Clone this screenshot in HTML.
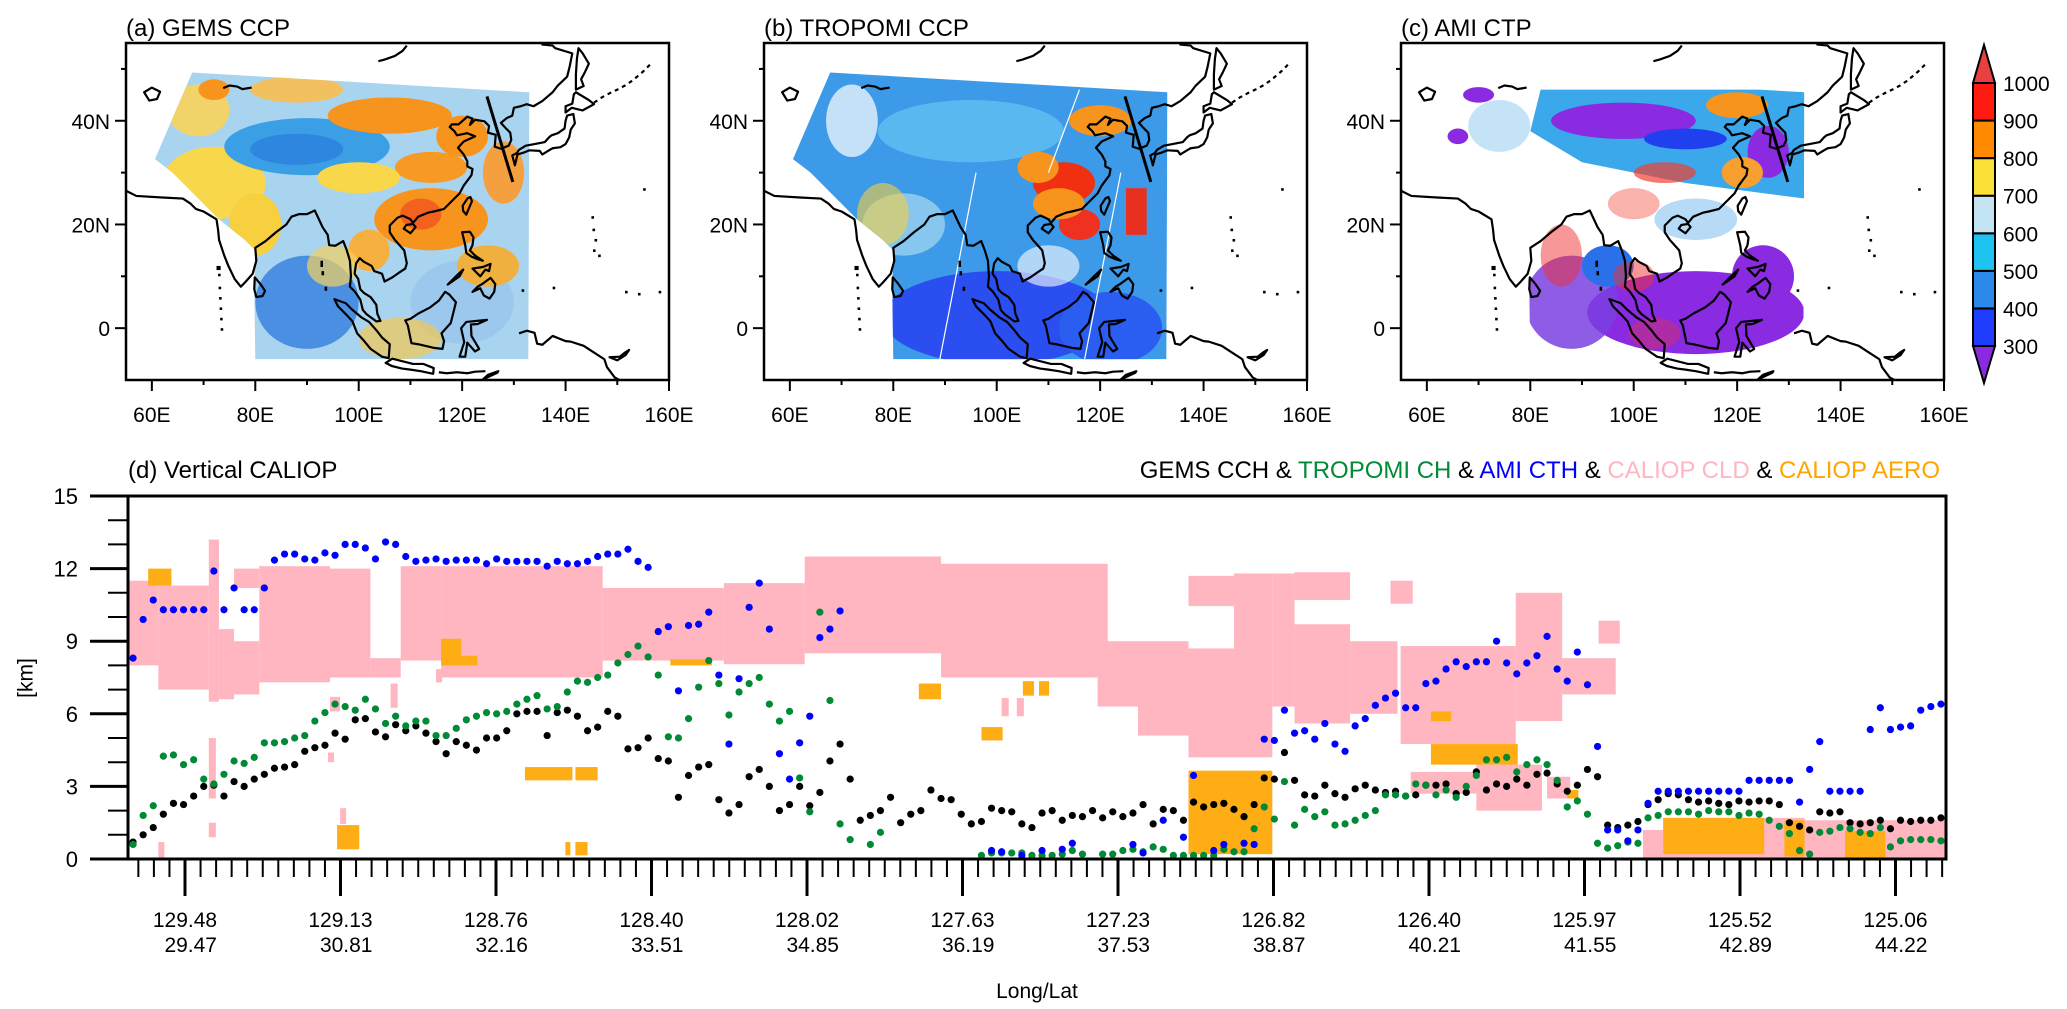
<!DOCTYPE html>
<html><head><meta charset="utf-8"><style>
html,body{margin:0;padding:0;background:#fff;}
svg{display:block;font-family:"Liberation Sans",Arial,sans-serif;}
</style></head><body>
<svg id="root" width="2067" height="1009" viewBox="0 0 2067 1009" xmlns="http://www.w3.org/2000/svg">
<defs>
<clipPath id="swclip" clipPathUnits="userSpaceOnUse"><polygon points="67.8,-49.3 133,-45.5 132.8,6 80,6 79.8,-8 80,-15 78,-17 73,-21 68,-26 64,-30 60.6,-32.6"/></clipPath>
<g id="coast" fill="none" stroke="#000" stroke-width="2.2" stroke-linejoin="round">
<polyline vector-effect="non-scaling-stroke" points="55,-26.5 57,-25.5 62,-25.2 66,-25 67.5,-24 68.5,-23 70,-22.5 72.5,-21 72.8,-19 73,-17 74,-14 74.8,-12 76,-9.5 77.2,-8 78,-8.8 79.5,-10.5 80.2,-13 80,-15.5 82,-16.8 84,-18.5 86,-20 87,-21.5 88.5,-22 90,-22 91.5,-22.7 92.3,-21 93,-19.5 94,-18 94.3,-16 95.5,-15.9 97,-16.8 97.7,-15 98.3,-13 98.5,-10 98.3,-8 99.3,-7 100.3,-5.5 100.8,-3.5 101.5,-2.7 103.4,-1.3 104.2,-1.4 103.6,-2.8 103.4,-4.5 102.3,-6 101,-6.8 100.3,-7.5 99.9,-9.5 99.2,-10.5 99.5,-12.5 100.2,-13.5 101,-12.8 102.5,-12 103,-11 104.5,-10.5 105,-9 106.5,-9.8 107.5,-10.5 109,-11.5 109.3,-12.5 108.8,-15 107,-17 106,-18.5 106,-19.8 107.5,-21.3 108.5,-21.7 110,-21 110.5,-20.3 111.5,-21.5 113.5,-22.3 114.5,-22.5 116.5,-23 118,-24.5 119.5,-26 120.3,-27.5 121.8,-29.5 122,-30.7 121,-31.2 121,-32.2 120.3,-33.5 119.2,-34.8 120.3,-36 122.5,-37 121,-37.6 119,-37.2 118.5,-38 117.6,-38.8 118,-39.3 119.3,-39.3 121,-40.8 122,-40.4 121.5,-39.2 122.5,-40.2 124.3,-39.9 125.2,-39 125,-37.7 126.5,-37.3 126.3,-35 127.5,-34.6 129,-35.2 129.5,-36.3 129.3,-37.7 128.4,-38.6 127.5,-39.6 128.6,-40.5 129.7,-41 130,-42.5 131.3,-42.8 132.5,-43.2 133.8,-42.8 135.5,-43.8 137.5,-45.5 138.5,-46.8 140.3,-48.5 140.8,-50.5 141.3,-53 138,-54 137.5,-54.5 135.5,-54.7 136,-55"/>
<polygon vector-effect="non-scaling-stroke" points="130.2,-31.4 130.7,-33.5 132,-33.9 133,-34.3 135,-34.2 135.5,-33.5 136.8,-34.3 137.5,-34.7 139,-34.9 140,-35.5 140.7,-36.8 141,-38.3 141.8,-39.5 141.5,-41.3 140.3,-41 140,-40 139.8,-38.5 138.5,-37.6 137.3,-37.2 136.8,-36.8 136,-35.9 134,-35.5 132.3,-35.2 131,-34.4 130.6,-33.8 129.7,-33.3"/>
<polygon vector-effect="non-scaling-stroke" points="140,-41.6 141.2,-42.5 143.3,-42 145.5,-43.2 144.5,-44 142,-45.5 141.6,-45.1 141.3,-43.3 140,-42.8"/>
<polygon vector-effect="non-scaling-stroke" points="142,-46 143.5,-46.7 143,-48 143.7,-49.3 144.5,-51 143.3,-53 142.5,-54 142.2,-52 142,-49"/>
<polygon vector-effect="non-scaling-stroke" points="120.2,-22.6 120.8,-21.9 121.9,-24.5 121.6,-25.3 121,-25 120.1,-23.6"/>
<polygon vector-effect="non-scaling-stroke" points="108.7,-19.2 110,-18.3 111,-19.5 110.5,-20.1 109.2,-19.9"/>
<polygon vector-effect="non-scaling-stroke" points="120,-18.5 121.5,-18.6 122.2,-17.5 122,-16 121.5,-15 122.5,-14 124,-13 123,-13.3 121.8,-13.8 120.8,-14.5 120.6,-16"/>
<polygon vector-effect="non-scaling-stroke" points="122,-11.5 123.5,-10 124.5,-11.3 125.2,-11 125.5,-12.4 124,-11.8"/>
<polygon vector-effect="non-scaling-stroke" points="117.2,-8.4 119.5,-10 120.2,-11.3 119,-10.2"/>
<polygon vector-effect="non-scaling-stroke" points="122,-7 123.5,-7.7 124.2,-6.3 125.3,-5.7 126.2,-7 126.4,-8.5 125.5,-9.7 124,-8.6 123,-8"/>
<polygon vector-effect="non-scaling-stroke" points="109,-1.5 109.5,-0.5 110.2,2.9 111.5,3.1 114.5,3.8 116.2,4 116.5,2.5 116,1 117.8,-1 118.8,-5 117.5,-6.5 116.7,-7 115.5,-5.3 113.8,-4 111.5,-2.8 110,-1.8"/>
<polygon vector-effect="non-scaling-stroke" points="119.5,5.5 120.4,2.7 119.8,0 120.8,-1.2 124.8,-1.6 123,-0.8 121.7,-0.7 121.8,1.5 123.3,4 122.5,4.5 121,2.8 120.6,5.5"/>
<polygon vector-effect="non-scaling-stroke" points="95.3,-5.6 97.5,-4.8 98.7,-3.6 100.5,-2.1 102,-1.2 103.5,0.5 104.5,1.8 106,3.1 105.8,5.8 104.5,5.5 102.3,4 100.9,2.3 99.7,1 98.8,-1.3 97.7,-2.5 96,-4.2"/>
<polygon vector-effect="non-scaling-stroke" points="105.2,6.7 106.5,5.9 108.5,6.4 110.5,6.9 112.5,6.9 114.5,7.7 114.4,8.8 112,8.3 110,8 108.4,7.8 106.4,7.3"/>
<polyline vector-effect="non-scaling-stroke" points="115.5,8.5 117,8.7 119,8.5 121,8.7 122.5,8.4 124.5,8.3"/>
<polygon vector-effect="non-scaling-stroke" points="124,9.9 126.8,8.6 127,8.3 125,9"/>
<polyline vector-effect="non-scaling-stroke" points="131,1 132.5,0.5 134,0.9 134.5,3 135.5,3.2 137.5,1.5 140,2.5 141,2.6 143.5,3.4 145.5,4.7 147.5,6 148,7.5 149.5,9.5 150.4,10"/>
<polygon vector-effect="non-scaling-stroke" points="148.5,5.6 150.5,5.5 151.5,4.7 152.3,4.2 151.6,5.2 150,6.2"/>
<polygon vector-effect="non-scaling-stroke" points="79.9,-9.8 81,-8.5 81.9,-7.2 81.4,-6.2 80.2,-6 79.8,-7.5"/>
<polygon vector-effect="non-scaling-stroke" points="58.5,-45.5 60,-46.4 61.6,-45.6 61,-44.2 59.5,-43.9"/>
<polyline vector-effect="non-scaling-stroke" points="73.8,-46.3 75,-46.8 76.5,-46.6 77.5,-46.1 79.3,-46.4"/>
<polyline vector-effect="non-scaling-stroke" points="103.8,-51.5 105,-51.8 107,-52.5 108.5,-53.5 109.3,-54.5"/>
<polyline vector-effect="non-scaling-stroke" stroke-dasharray="4 4" points="145.5,-43.5 147,-44.5 148.5,-45.3 150,-46 151.5,-46.8 153,-47.8 155,-49.5 156.3,-50.8"/>
<g fill="#000" stroke="none">
<rect x="145.3" y="-15.2" width="0.5" height="0.5"/><rect x="145.6" y="-17.2" width="0.5" height="0.5"/><rect x="145.2" y="-19.2" width="0.5" height="0.5"/><rect x="145" y="-21.6" width="0.5" height="0.5"/><rect x="146.3" y="-14.2" width="0.5" height="0.5"/><rect x="137.5" y="-8" width="0.5" height="0.5"/><rect x="131.5" y="-7.5" width="0.5" height="0.5"/><rect x="151.5" y="-7.2" width="0.5" height="0.5"/><rect x="154" y="-6.8" width="0.5" height="0.5"/><rect x="158" y="-7.2" width="0.5" height="0.5"/><rect x="155" y="-27" width="0.5" height="0.5"/>
<rect x="72.8" y="-10.5" width="0.5" height="0.5"/><rect x="72.9" y="-8" width="0.5" height="0.5"/><rect x="73" y="-6" width="0.5" height="0.5"/><rect x="73.1" y="-4" width="0.5" height="0.5"/><rect x="73.2" y="-2" width="0.5" height="0.5"/><rect x="73.3" y="0" width="0.5" height="0.5"/><rect x="72.5" y="-12" width="0.8" height="0.8"/>
<rect x="92.6" y="-13" width="0.5" height="1.2"/><rect x="92.8" y="-11" width="0.5" height="0.8"/><rect x="93.4" y="-8" width="0.5" height="0.8"/>
</g>
<polyline vector-effect="non-scaling-stroke" stroke-width="3" points="129.8,-28.2 124.8,-44.7"/>
</g>
</defs>

<!-- Panel (a) -->
<text x="126" y="36" font-size="24">(a) GEMS CCP</text>
<svg x="126" y="43" width="543" height="337" viewBox="55 -55 105 65" preserveAspectRatio="none">
<g clip-path="url(#swclip)">
<rect x="55" y="-55" width="105" height="65" fill="#a9d4f0"/>
<ellipse cx="72" cy="-28" rx="10" ry="7" fill="#f8d84a"/>
<ellipse cx="80" cy="-20" rx="5" ry="6" fill="#f7d040"/>
<ellipse cx="69" cy="-42" rx="6" ry="5" fill="#f2d36a"/>
<ellipse cx="88" cy="-46" rx="9" ry="2.5" fill="#f3c060"/>
<ellipse cx="72" cy="-46" rx="3" ry="2" fill="#f7941d"/>
<ellipse cx="90" cy="-35" rx="16" ry="5.5" fill="#3b9fe6"/>
<ellipse cx="88" cy="-34.5" rx="9" ry="3" fill="#2f86df"/>
<ellipse cx="106" cy="-41" rx="12" ry="3.5" fill="#f7941d"/>
<ellipse cx="114" cy="-31" rx="7" ry="3" fill="#f79a25"/>
<ellipse cx="120" cy="-37" rx="5" ry="4" fill="#f7941d"/>
<ellipse cx="100" cy="-29" rx="8" ry="3" fill="#f8d84a"/>
<ellipse cx="114" cy="-21" rx="11" ry="6" fill="#f7941d"/>
<ellipse cx="112" cy="-22" rx="4" ry="3" fill="#f04020" opacity="0.6"/>
<ellipse cx="102" cy="-15" rx="4" ry="4" fill="#f5b040"/>
<ellipse cx="90" cy="-5" rx="10" ry="9" fill="#4b8fe3"/>
<ellipse cx="95" cy="-12" rx="5" ry="4" fill="#f2d060" opacity="0.7"/>
<ellipse cx="120" cy="-5" rx="10" ry="8" fill="#9cc8ee"/>
<ellipse cx="125" cy="-12" rx="6" ry="4" fill="#f0b040"/>
<ellipse cx="128" cy="-30" rx="4" ry="6" fill="#f5a040"/>
<ellipse cx="108" cy="2" rx="8" ry="4" fill="#f2c850" opacity="0.7"/>
</g>
<use href="#coast"/>
</svg>

<!-- Panel (b) -->
<text x="764" y="36" font-size="24">(b) TROPOMI CCP</text>
<svg x="764" y="43" width="543" height="337" viewBox="55 -55 105 65" preserveAspectRatio="none">
<g clip-path="url(#swclip)">
<rect x="55" y="-55" width="105" height="65" fill="#3d9ae8"/>
<ellipse cx="95" cy="-38" rx="18" ry="6" fill="#5ab8f0"/>
<ellipse cx="82" cy="-20" rx="8" ry="6" fill="#86c6ef"/>
<ellipse cx="72" cy="-40" rx="5" ry="7" fill="#fff" opacity="0.7"/>
<ellipse cx="78" cy="-22" rx="5" ry="6" fill="#f5d040" opacity="0.6"/>
<ellipse cx="113" cy="-28" rx="6" ry="4" fill="#f03010"/>
<ellipse cx="108" cy="-31" rx="4" ry="3" fill="#f7941d"/>
<rect x="125" y="-27" width="4" height="9" fill="#e83020"/>
<ellipse cx="116" cy="-20" rx="4" ry="3" fill="#f03020"/>
<ellipse cx="120" cy="-40" rx="6" ry="3" fill="#f7941d"/>
<ellipse cx="112" cy="-24" rx="5" ry="3" fill="#f7941d"/>
<ellipse cx="100" cy="-2" rx="22" ry="9" fill="#2a4ef0"/>
<ellipse cx="122" cy="0" rx="10" ry="7" fill="#2a5ef0"/>
<ellipse cx="110" cy="-12" rx="6" ry="4" fill="#fff" opacity="0.6"/>
<g stroke="#fff" stroke-width="1.2" fill="none">
<line x1="89" y1="6" x2="96" y2="-30" vector-effect="non-scaling-stroke"/>
<line x1="117" y1="6" x2="124" y2="-30" vector-effect="non-scaling-stroke"/>
<line x1="110" y1="-30" x2="116" y2="-46" vector-effect="non-scaling-stroke"/>
</g>
</g>
<use href="#coast"/>
</svg>

<!-- Panel (c) -->
<text x="1401" y="36" font-size="24">(c) AMI CTP</text>
<svg x="1401" y="43" width="543" height="337" viewBox="55 -55 105 65" preserveAspectRatio="none">
<g clip-path="url(#swclip)">
<polygon points="82,-46 133,-46 133,-25 110,-28 90,-32 80,-38" fill="#3aa8ea"/>
<ellipse cx="74" cy="-39" rx="6" ry="5" fill="#9fd0f0" opacity="0.6"/>
<ellipse cx="98" cy="-40" rx="14" ry="3.5" fill="#8a2be2"/>
<ellipse cx="110" cy="-36.5" rx="8" ry="2" fill="#2040f0"/>
<ellipse cx="120" cy="-43" rx="6" ry="2.5" fill="#f7941d"/>
<ellipse cx="126" cy="-34" rx="4" ry="5" fill="#8a2be2"/>
<ellipse cx="121" cy="-30" rx="4" ry="3" fill="#f7a030"/>
<ellipse cx="70" cy="-45" rx="3" ry="1.5" fill="#8a2be2"/>
<ellipse cx="66" cy="-37" rx="2" ry="1.5" fill="#8a2be2"/>
<ellipse cx="106" cy="-30" rx="6" ry="2" fill="#f04030" opacity="0.7"/>
<ellipse cx="112" cy="-21" rx="8" ry="4" fill="#6fb8ee" opacity="0.5"/>
<ellipse cx="100" cy="-24" rx="5" ry="3" fill="#f04030" opacity="0.4"/>
<ellipse cx="112" cy="-3" rx="21" ry="8" fill="#8a2be2"/>
<ellipse cx="125" cy="-10" rx="6" ry="6" fill="#8a2be2"/>
<ellipse cx="88" cy="-5" rx="9" ry="9" fill="#7a40e0" opacity="0.85"/>
<ellipse cx="95" cy="-12" rx="5" ry="4" fill="#2a70e8"/>
<ellipse cx="86" cy="-14" rx="4" ry="6" fill="#f03030" opacity="0.5"/>
<ellipse cx="100" cy="-10" rx="4" ry="3" fill="#f03030" opacity="0.5"/>
<ellipse cx="104" cy="1" rx="5" ry="3" fill="#f03030" opacity="0.35"/>
</g>
<use href="#coast"/>
</svg>

<g id="mapaxes"></g>
<g id="colorbar"></g>

<text x="128" y="478" font-size="24">(d) Vertical CALIOP</text>
<text x="1940" y="478" font-size="24" text-anchor="end"><tspan fill="#000">GEMS CCH</tspan> &amp; <tspan fill="#008a35">TROPOMI CH</tspan> &amp; <tspan fill="#0000ff">AMI CTH</tspan> &amp; <tspan fill="#ffb6c1">CALIOP CLD</tspan> &amp; <tspan fill="#ffa500">CALIOP AERO</tspan></text>
<g id="chart"></g>
<text x="27" y="678" font-size="21" text-anchor="middle" transform="rotate(-90 27 678)" dominant-baseline="middle">[km]</text>
<text x="1037" y="998" font-size="21" text-anchor="middle">Long/Lat</text>
</svg>
<script>
const NS="http://www.w3.org/2000/svg";
// ---- chart data ----
const gemsCCH=[0.7,1.0,1.3,1.85,2.3,2.25,2.6,3.0,3.05,2.6,3.2,3.0,3.3,3.5,3.75,3.8,3.9,4.45,4.6,4.7,5.2,4.95,5.75,5.8,5.25,5.05,5.55,5.3,5.5,5.2,4.85,4.35,4.85,4.7,4.5,5.0,5.0,5.3,6.0,6.1,6.1,5.1,6.05,6.15,5.9,5.3,5.45,6.1,5.9,4.55,4.6,5.0,4.15,4.05,2.55,3.45,3.8,3.9,2.45,1.9,2.25,
3.4,3.7,3.0,2.0,2.25,3.0,2.2,2.75,4.05,4.75,3.3,1.6,1.8,2.0,2.55,1.5,1.85,2.0,2.85,2.5,2.45,1.85,1.45,1.55,2.1,2.0,1.95,1.45,1.3,1.9,2.0,1.6,1.8,1.75,2.0,1.7,1.95,1.75,1.9,2.25,1.45,2.05,2.0,1.6,2.35,2.15,2.25,2.3,2.05,1.75,2.25,3.35,3.3,4.4,3.25,2.65,2.6,3.05,2.7,2.55,
2.9,3.05,2.85,2.75,2.8,2.6,2.65,3.05,3.05,3.1,2.7,2.75,3.6,2.85,3.1,3.0,3.3,3.05,3.5,3.55,3.1,2.8,3.05,3.7,3.4,1.4,1.3,1.4,1.55,2.25,2.45,2.7,2.65,2.45,2.35,2.4,2.3,2.25,2.4,2.35,2.4,2.4,2.25,1.5,1.35,1.2,1.95,1.9,1.95,1.5,1.45,1.5,1.6,1.25,1.6,1.55,1.6,1.6,1.7];
const tropomiCH=[0.6,1.8,2.2,4.25,4.3,3.9,4.1,3.3,3.1,3.5,4.05,3.95,4.2,4.8,4.8,4.85,5.0,5.1,5.7,6.05,6.4,6.3,6.15,6.6,6.2,5.6,5.9,5.5,5.7,5.7,5.1,5.1,5.4,5.75,5.9,6.05,6.0,6.1,6.4,6.6,6.75,6.2,6.3,6.9,7.35,7.3,7.5,7.6,8.1,8.45,8.8,8.35,7.6,5.05,5.0,5.8,7.1,8.2,7.25,5.95,6.9,
7.25,7.5,6.4,5.7,6.1,3.35,1.95,10.2,6.55,1.45,0.8,null,0.6,1.1,null,null,null,null,null,null,null,null,null,0.15,0.25,0.25,0.25,0.25,0.15,0.15,0.15,0.2,0.35,0.2,null,0.2,0.2,0.35,0.4,0.3,0.5,0.4,0.15,0.15,0.15,0.15,0.15,0.4,0.3,0.3,1.25,2.15,1.65,3.2,1.4,2.05,1.75,1.95,1.4,1.45,
1.6,1.8,2.0,2.65,2.65,2.6,3.1,3.05,2.65,2.85,2.55,3.0,3.45,4.1,4.1,4.2,3.6,3.9,4.1,3.9,3.25,2.15,2.4,1.85,0.65,0.45,0.55,0.7,0.65,1.7,1.8,1.95,1.95,1.95,1.85,2.0,1.95,1.95,1.8,1.9,1.85,1.6,1.35,1.05,0.35,0.2,1.1,1.15,1.3,1.25,1.1,1.05,1.3,0.5,0.75,0.8,0.8,0.8,0.75];
const amiCTH=[8.3,9.9,10.7,10.3,10.3,10.3,10.3,10.3,11.9,10.3,11.2,10.3,10.3,11.2,12.35,12.6,12.6,12.4,12.35,12.65,12.55,13.0,13.0,12.85,12.4,13.1,13.0,12.5,12.3,12.35,12.4,12.3,12.35,12.35,12.35,12.2,12.4,12.3,12.3,12.3,12.3,12.1,12.3,12.2,12.2,12.3,12.5,12.6,12.6,12.8,12.3,12.05,9.4,9.6,6.95,9.65,9.7,10.2,7.6,4.75,7.45,
10.4,11.4,9.5,4.35,3.3,4.8,5.9,9.15,9.5,10.25,null,null,null,null,null,null,null,null,null,null,null,null,null,null,0.35,0.3,null,0.15,null,0.35,null,0.4,0.65,null,null,null,null,null,0.6,0.25,null,1.6,null,0.9,3.45,null,0.35,0.6,null,0.65,0.6,4.95,4.9,6.15,5.2,5.3,4.95,5.6,4.75,4.45,
5.5,5.8,6.35,6.65,6.85,6.25,6.25,7.25,7.35,7.85,8.15,7.95,8.15,8.15,9.0,8.1,7.65,8.1,8.4,9.2,7.85,7.35,8.55,7.2,4.65,1.2,1.2,0.75,1.2,2.3,2.8,2.8,2.8,2.8,2.8,2.8,2.8,2.8,2.8,3.25,3.25,3.25,3.25,3.25,2.35,3.7,4.85,2.8,2.8,2.8,2.8,5.35,6.25,5.35,5.45,5.5,6.15,6.3,6.4];
// cloud layers: start index, end index, base km, top km
const cldStart=[0,3,8,9,10.5,10.5,13,20,24,27,31,47,59,67,80.5,96,100,105,105,109.5,113.3,115.5,115.5,121,125,126,137.4,142,145.6,127,133.5,140.5,3,8,8,20,19.8,21,26,30.5,86.5,88,150,152,166];
const cldEnd=[3,8,9,10.5,13,13,20,24,27,31,47,59,67,80.5,97,105,105,109.5,113.3,113.3,115.5,121,121,125.7,127.2,137.4,142,147.3,147.7,133.5,140,142.8,3.6,8.7,8.7,21,20.4,21.6,26.7,31.1,87.2,88.7,152,166,180];
const cldBase=[8.0,7.0,6.5,6.6,11.2,6.8,7.3,7.5,7.5,8.2,7.5,8.2,8.05,8.5,7.5,6.3,5.1,10.45,4.2,8.7,6.3,10.7,5.6,6.0,10.55,4.75,5.7,6.8,8.9,2.7,2.0,2.5,0,0.9,2.5,6.1,4.0,1.45,6.25,7.3,5.9,5.9,0,0,0];
const cldTop=[11.5,11.3,13.2,9.5,12.0,9.0,12.1,12.0,8.3,12.1,12.1,11.2,11.4,12.5,12.2,9.0,6.3,11.7,8.7,11.8,11.8,11.85,9.7,9.0,11.5,8.8,11.0,8.3,9.85,3.6,3.9,3.4,0.7,1.5,5.0,6.7,4.4,2.1,7.25,7.85,6.65,6.65,1.2,1.7,1.6];
// aerosol layers
const aerStart=[2,20.7,31,33,39.3,44.3,43.3,44.3,53.7,78.3,84.5,88.6,90.2,105,129,129,142.5,152,164,170];
const aerEnd=[4.3,22.9,33,34.6,44,46.5,43.8,45.5,57.8,80.5,86.6,89.7,91.2,113.3,137.6,131,143.6,162,166,174];
const aerBase=[11.3,0.4,8.0,8.0,3.25,3.25,0.15,0.15,8.0,6.6,4.9,6.75,6.75,0.2,3.9,5.7,2.5,0.2,0.1,0];
const aerTop=[12.0,1.4,9.1,8.4,3.8,3.8,0.7,0.7,8.25,7.25,5.45,7.35,7.35,3.65,4.75,6.1,2.85,1.7,1.6,1.15];
const yTicks=[0,3,6,9,12,15];
const lonLabels=["129.48","129.13","128.76","128.40","128.02","127.63","127.23","126.82","126.40","125.97","125.52","125.06"];
const latLabels=["29.47","30.81","32.16","33.51","34.85","36.19","37.53","38.87","40.21","41.55","42.89","44.22"];
const cbLevels=[300,400,500,600,700,800,900,1000];
const cbColors=["#1f3cff","#2b8ae8","#1ec3f0","#c4e4f4","#fbe03a","#ff8a00","#ff1a10"];
// ---- geometry ----
const X0=128,X1=1946,Y0=496,Y1=859,N=180,STEP=(X1-X0)/N;
function xc(i){return X0+(i+0.5)*STEP;}
function xe(i){return X0+i*STEP;}
function yk(km){return Y1-km*(Y1-Y0)/15;}
function mk(tag,attrs,parent){const e=document.createElementNS(NS,tag);for(const k in attrs)e.setAttribute(k,attrs[k]);parent.appendChild(e);return e;}
const chart=document.getElementById('chart');
for(let j=0;j<cldStart.length;j++){
 const r=mk('rect',{x:xe(cldStart[j]),y:yk(cldTop[j]),width:xe(cldEnd[j])-xe(cldStart[j]),height:yk(cldBase[j])-yk(cldTop[j]),fill:'#ffb6c1'},chart);
 
 
}
for(let j=0;j<aerStart.length;j++){
 const r=mk('rect',{x:xe(aerStart[j]),y:yk(aerTop[j]),width:xe(aerEnd[j])-xe(aerStart[j]),height:yk(aerBase[j])-yk(aerTop[j]),fill:'#ffad14'},chart);
 
 
}
function series(arr,color,name){
 const g=mk('g',{fill:color},chart);
 
 
 for(let i=0;i<arr.length;i++){ if(arr[i]===null)continue;
  const c=mk('circle',{cx:xc(i),cy:yk(arr[i]),r:3.6},g);
  
  
 }
}
series(gemsCCH,'#000','gems-cch-series');
series(tropomiCH,'#008a35','tropomi-ch-series');
series(amiCTH,'#0000ff','ami-cth-series');
const fr=mk('rect',{x:X0,y:Y0,width:X1-X0,height:Y1-Y0,fill:'none',stroke:'#000','stroke-width':3},chart);


for(let k=0;k<=15;k++){
 const major=k%3===0;
 const t=mk('line',{x1:major?90:108,x2:X0,y1:yk(k),y2:yk(k),stroke:'#000','stroke-width':major?3:2},chart);
 
 
}
yTicks.forEach(v=>{
 const t=mk('text',{x:78,y:yk(v)+8,'font-size':22,'text-anchor':'end'},chart);
 t.textContent=v;
 
 
});
const MAJ0=185,MAJSTEP=155.5;
for(let k=-3;;k++){
 const x=MAJ0+k*MAJSTEP/10; if(x>X1)break; if(x<X0)continue;
 const major=((k%10)+10)%10===0;
 const t=mk('line',{x1:x,x2:x,y1:Y1,y2:major?896:877,stroke:'#000','stroke-width':major?3:2},chart);
 
 
}
lonLabels.forEach((s,k)=>{
 const x=MAJ0+k*MAJSTEP;
 const t=mk('text',{x:x,y:927,'font-size':21,'text-anchor':'middle'},chart);
 t.textContent=s;
 
 
 const t2=mk('text',{x:x+32,y:952,'font-size':21,'text-anchor':'end'},chart);
 t2.textContent=latLabels[k];
 
 
});
const ma=document.getElementById('mapaxes');
[126,764,1401].forEach(L=>{
 const T=43,W=543,H=337;
 const f=mk('rect',{x:L,y:T,width:W,height:H,fill:'none',stroke:'#000','stroke-width':2.5},ma);
 
 
 for(let lon=60;lon<=160;lon+=10){
  const x=L+(lon-55)*W/105, major=lon%20===0;
  const t=mk('line',{x1:x,x2:x,y1:T+H,y2:T+H+(major?11:5),stroke:'#000','stroke-width':2},ma);
  
  
  if(major){const s=mk('text',{x:x,y:422,'font-size':21,'text-anchor':'middle'},ma);s.textContent=lon+'E';
   
   }
 }
 for(let lat=50;lat>=0;lat-=10){
  const y=T+(55-lat)*H/65, major=lat%20===0;
  const t=mk('line',{x1:L-(major?11:5),x2:L,y1:y,y2:y,stroke:'#000','stroke-width':2},ma);
  
  
  if(major){const s=mk('text',{x:L-16,y:y+8,'font-size':21,'text-anchor':'end'},ma);s.textContent=lat===0?'0':lat+'N';
   
   }
 }
});
const cb=document.getElementById('colorbar');
const CBX=1973,CBW=22;
function cby(v){return 346-(v-300)*(346-83)/700;}
for(let j=0;j<cbColors.length;j++){
 const r=mk('rect',{x:CBX,y:cby(cbLevels[j+1]),width:CBW,height:cby(cbLevels[j])-cby(cbLevels[j+1]),fill:cbColors[j],stroke:'#000','stroke-width':2},cb);
 
 
}
const tu=mk('polygon',{points:`${CBX},83 ${CBX+CBW},83 ${CBX+CBW/2},45`,fill:'#e84040',stroke:'#000','stroke-width':2},cb);


const td=mk('polygon',{points:`${CBX},346 ${CBX+CBW},346 ${CBX+CBW/2},383`,fill:'#8a2be2',stroke:'#000','stroke-width':2},cb);


cbLevels.forEach(v=>{
 const t=mk('text',{x:2003,y:cby(v)+8,'font-size':21},cb);
 t.textContent=v;
 
 
});
</script>
</body></html>
